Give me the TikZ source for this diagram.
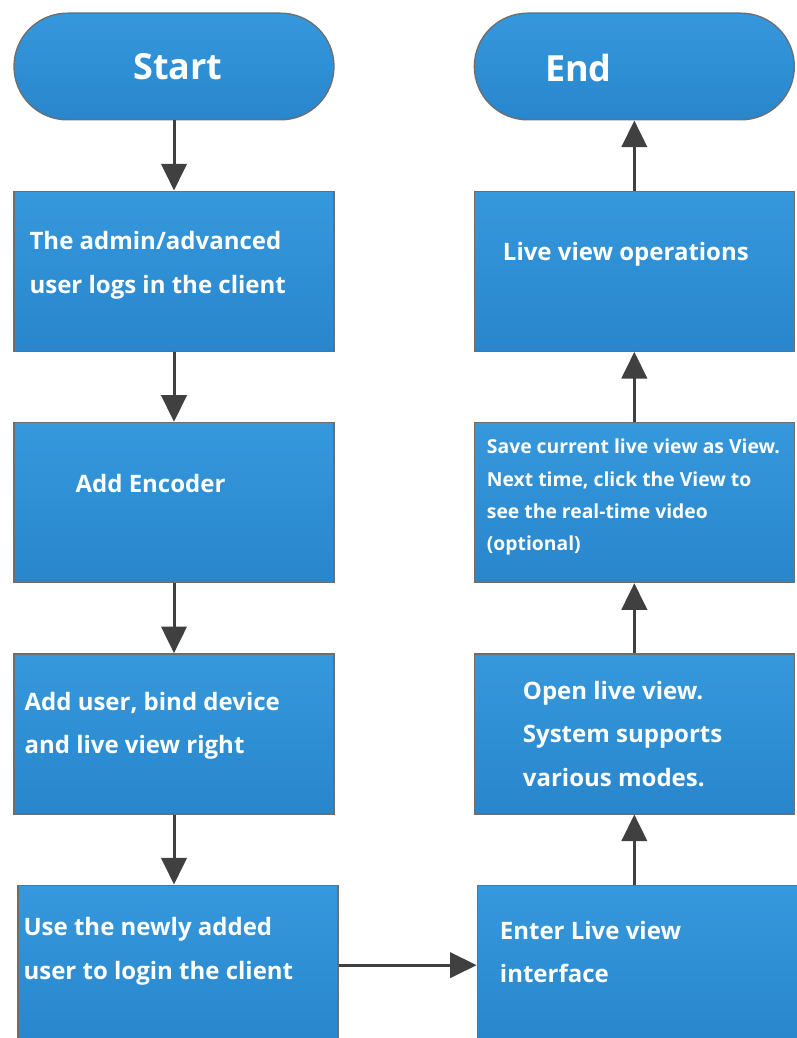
\documentclass[tikz,border=0pt]{standalone}
\usepackage{fontspec}
\setmainfont{Open Sans}
\usepackage{xcolor}
\definecolor{boxtop}{RGB}{54,152,220}
\definecolor{boxbottom}{RGB}{40,134,204}
\definecolor{boxedge}{RGB}{110,110,110}
\definecolor{arrowgray}{RGB}{64,64,64}
\usetikzlibrary{arrows.meta, positioning}

\begin{document}
\begin{tikzpicture}[
    x=0.75pt, y=-0.75pt,
    >={Triangle[length=20pt, width=19pt]},
    node distance=52.5pt,
    font=\bfseries\fontsize{18}{32.5}\selectfont,
    stepbox/.style={draw=boxedge, line width=1pt, rectangle, top color=boxtop, bottom color=boxbottom, minimum width=240pt, minimum height=120pt, inner sep=0pt},
    termbox/.style={stepbox, rounded corners=40pt, minimum height=80pt},
    boxtext/.style={text=white, align=left, inner sep=0pt, anchor=west},
    flow/.style={->, draw=arrowgray, line width=2.25pt}
  ]
  \useasboundingbox (0,0) rectangle (796,1038);

  % left column
  \node (start) [termbox] at (174,66.5) {};
  \node (login_adm) [stepbox, below=of start] {};
  \node (add_enc) [stepbox, below=of login_adm] {};
  \node (add_user) [stepbox, below=of add_enc] {};
  \node (login_new) [stepbox, below=of add_user, xshift=3pt] {};

  % right column
  \node (enter_lv) [stepbox, right=103.5pt of login_new] {};
  \node (open_lv) [stepbox, above=of enter_lv, xshift=-2.25pt] {};
  \node (save_view) [stepbox, above=of open_lv] {};
  \node (lv_ops) [stepbox, above=of save_view] {};
  \node (end) [termbox, above=of lv_ops] {};

  % texts
  \node (start_t) [boxtext, anchor=center, font=\bfseries\fontsize{27}{32}\selectfont, xshift=3pt] at (start) {Start};
  \node (end_t) [boxtext, anchor=center, font=\bfseries\fontsize{27}{32}\selectfont, xshift=-42pt, yshift=-1.5pt] at (end) {End};
  \node (login_adm_t) [boxtext, right=12pt of login_adm.west, yshift=4.5pt] {The admin/advanced\\user logs in the client};
  \node (add_enc_t) [boxtext, right=46.5pt of add_enc.west, yshift=14.25pt] {Add Encoder};
  \node (add_user_t) [boxtext, right=8.25pt of add_user.west, yshift=6pt] {Add user, bind device\\and live view right};
  \node (login_new_t) [boxtext, right=4.5pt of login_new.west, yshift=10.5pt] {Use the newly added\\user to login the client};
  \node (enter_lv_t) [boxtext, right=17.25pt of enter_lv.west, yshift=9.75pt] {Enter Live view\\interface};
  \node (open_lv_t) [boxtext, right=36.75pt of open_lv.west] {Open live view.\\System supports\\various modes.};
  \node (save_view_t) [boxtext, right=9.75pt of save_view.west, yshift=4pt, font=\bfseries\fontsize{14.5}{24.2}\selectfont] {Save current live view as View.\\Next time, click the View to\\see the real-time video\\(optional)};
  \node (lv_ops_t) [boxtext, right=21.75pt of lv_ops.west, yshift=12.75pt] {Live view operations};

  % connectors
  \draw[flow] (start) -- (login_adm);
  \draw[flow] (login_adm) -- (add_enc);
  \draw[flow] (add_enc) -- (add_user);
  \draw[flow] (add_user.south) -- (add_user.south |- login_new.north);
  \draw[flow] (login_new) -- (enter_lv);
  \draw[flow] (enter_lv.north -| open_lv) -- (open_lv);
  \draw[flow] (open_lv) -- (save_view);
  \draw[flow] (save_view) -- (lv_ops);
  \draw[flow] (lv_ops) -- (end);

\end{tikzpicture}
\end{document}
